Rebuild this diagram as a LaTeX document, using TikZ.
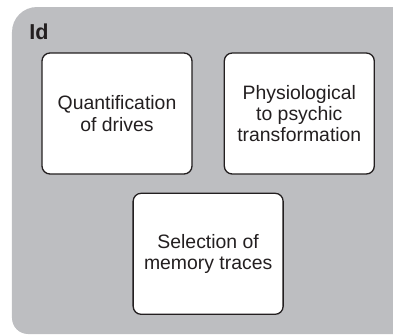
\documentclass[tikz,border=0pt]{standalone}
\usepackage{fontspec}
\setmainfont{Liberation Sans}
\usetikzlibrary{positioning, calc}
\definecolor{idgrey}{RGB}{189,190,193}
\definecolor{inkdark}{RGB}{35,31,32}

\begin{document}
\begin{tikzpicture}[
  x=0.5pt, y=0.5pt,
  style={text=inkdark},
  task/.style={draw=inkdark, line width=0.65pt, fill=white, rounded corners=4pt,
    minimum width=75pt, minimum height=60.5pt, align=center,
    font=\fontsize{9.7}{10.6}\selectfont},
]
\useasboundingbox (0,0) rectangle (393,334);
  % Grey panel for the Id
  \fill[idgrey] (393,327) [rounded corners=12.5pt] -- (12,327)
    [rounded corners=8pt] -- (12,0) [sharp corners] -- (393,0) -- cycle;
  \node[anchor=north west, inner sep=0pt, font=\fontsize{10.8}{12}\selectfont\bfseries]
    (title) at (29,311) {Id};

  % Three tasks of the Id
  \node[task] (quant) at (117,220.5) {Quantification\\of drives};
  \node[task, right=15.5pt of quant] (physio) {Physiological\\to psychic\\transformation};
  \node[task, below=9pt of $(quant.south east)!.5!(physio.south west)$, anchor=north]
    (select) {Selection of\\memory traces};
\end{tikzpicture}
\end{document}
